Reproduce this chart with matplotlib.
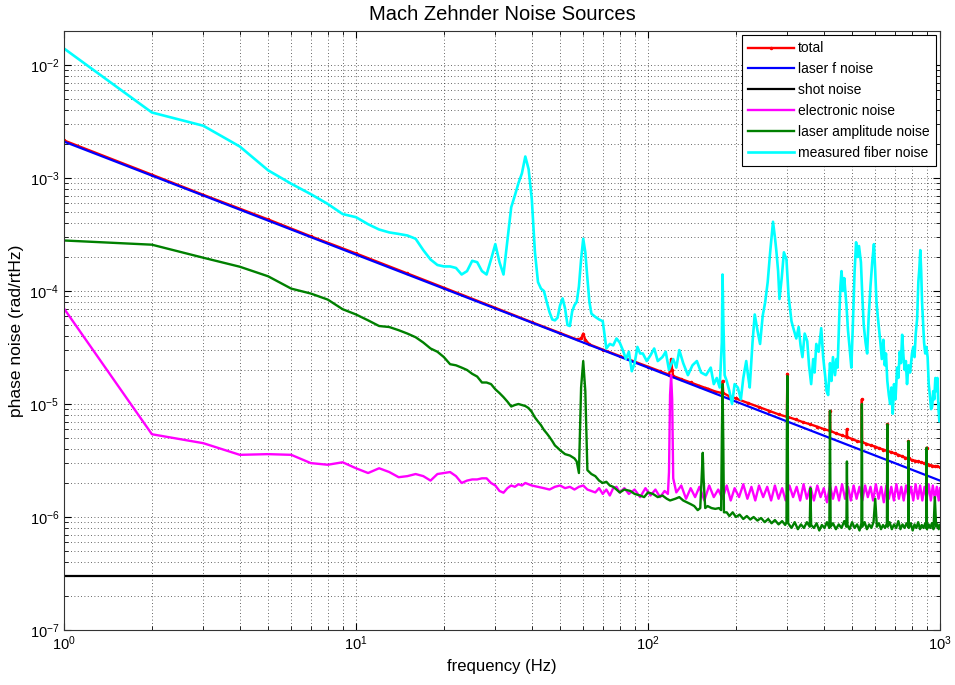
import numpy as np
import matplotlib
matplotlib.use('Agg')
from matplotlib import pyplot as plt

plt.rcParams['font.family'] = ['Liberation Sans', 'DejaVu Sans']

# total noise
total_f = [1, 2, 3, 5, 7, 10, 15, 20, 30, 40, 50, 57, 59, 60, 61, 63, 70, 80, 90, 100,
           110, 118, 119, 120, 121, 122, 130, 140, 150, 157, 160, 170, 179, 180, 181, 190,
           200, 220, 240, 260, 280, 299, 300, 301, 320, 340, 360, 380, 400, 419, 420, 421,
           440, 460, 479, 480, 481, 500, 520, 539, 540, 541, 560, 580, 600, 620, 640, 659,
           660, 661, 680, 700, 720, 740, 760, 779, 780, 781, 800, 820, 840, 860, 880, 899,
           900, 901, 920, 940, 960, 980, 1000]
total_v = [2.15e-3, 1.07e-3, 7.1e-4, 4.3e-4, 3.05e-4, 2.15e-4, 1.43e-4, 1.07e-4, 7.1e-5,
           5.3e-5, 4.25e-5, 3.73e-5, 3.8e-5, 4.2e-5, 3.7e-5, 3.37e-5, 3.03e-5, 2.66e-5,
           2.37e-5, 2.14e-5, 1.95e-5, 1.82e-5, 2.0e-5, 2.5e-5, 2.0e-5, 1.77e-5, 1.66e-5,
           1.55e-5, 1.45e-5, 1.39e-5, 1.37e-5, 1.29e-5, 1.25e-5, 1.6e-5, 1.25e-5, 1.17e-5,
           1.12e-5, 1.02e-5, 9.4e-6, 8.7e-6, 8.1e-6, 7.7e-6, 1.85e-5, 7.7e-6, 7.3e-6, 6.9e-6,
           6.6e-6, 6.3e-6, 6.0e-6, 5.8e-6, 8.7e-6, 5.8e-6, 5.5e-6, 5.3e-6, 5.1e-6, 6.0e-6,
           5.1e-6, 4.9e-6, 4.7e-6, 4.6e-6, 1.1e-5, 4.6e-6, 4.45e-6, 4.3e-6, 4.2e-6, 4.05e-6,
           3.95e-6, 3.85e-6, 6.6e-6, 3.85e-6, 3.75e-6, 3.65e-6, 3.55e-6, 3.45e-6, 3.35e-6,
           3.3e-6, 4.7e-6, 3.3e-6, 3.2e-6, 3.15e-6, 3.1e-6, 3.05e-6, 3.0e-6, 2.95e-6, 4.1e-6,
           2.95e-6, 2.9e-6, 2.85e-6, 2.8e-6, 2.8e-6, 2.75e-6]

# laser frequency noise
laserf_f = [1, 10, 100, 1000]
laserf_v = [2.1e-3, 2.1e-4, 2.1e-5, 2.1e-6]

# shot noise
shot_f = [1, 1000]
shot_v = [3e-7, 3e-7]

# electronic noise
elec_f = [1, 2, 3, 4, 5, 6, 7, 8, 9, 10, 11, 12, 13, 14, 15, 16, 17, 18, 19, 20, 21, 22,
          23, 24, 25, 26, 27, 28, 29, 30, 31, 32, 33, 34, 35, 36, 37, 38, 39, 40, 42, 44,
          46, 48, 50, 52, 54, 56, 58, 60, 62, 64, 66, 68, 70, 72, 74, 76, 78, 80, 83, 86,
          90, 94, 98, 102, 106, 110, 114, 117, 118, 119, 120, 121, 122, 125,
          130, 135, 140, 145, 150, 156, 162, 168, 174, 180, 186, 192, 198, 205, 212, 219,
          226, 233, 240, 248, 256, 264, 272, 280, 288, 296, 305, 314, 323, 332, 341, 350,
          360, 370, 380, 390, 400, 410, 420, 430, 440, 451, 462, 473, 484, 495, 506, 518,
          530, 542, 554, 566, 578, 590, 603, 616, 629, 642, 655, 668, 681, 695, 709, 723,
          737, 751, 765, 780, 795, 810, 825, 840, 855, 870, 885, 900, 915, 930, 945, 960,
          975, 990, 1000]
elec_v = [7.0e-5, 5.4e-6, 4.5e-6, 3.55e-6, 3.6e-6, 3.55e-6, 3.0e-6, 2.9e-6, 3.05e-6,
          2.7e-6, 2.45e-6, 2.7e-6, 2.5e-6, 2.25e-6, 2.3e-6, 2.4e-6, 2.3e-6, 2.1e-6, 2.4e-6,
          2.45e-6, 2.5e-6, 2.3e-6, 2.0e-6, 2.1e-6, 2.15e-6, 2.15e-6, 2.2e-6, 2.2e-6, 2.0e-6,
          1.9e-6, 1.7e-6, 1.64e-6, 1.8e-6, 1.9e-6, 1.85e-6, 1.95e-6, 1.9e-6, 2.0e-6, 1.95e-6,
          1.9e-6, 1.85e-6, 1.8e-6, 1.75e-6, 1.85e-6, 1.9e-6, 1.8e-6, 1.85e-6, 1.75e-6,
          1.85e-6, 1.9e-6, 1.75e-6, 1.7e-6, 1.65e-6, 1.8e-6, 1.6e-6, 1.75e-6, 1.55e-6,
          1.8e-6, 1.85e-6, 1.65e-6, 1.8e-6, 1.6e-6, 1.75e-6, 1.5e-6, 1.8e-6, 1.55e-6,
          1.75e-6, 1.5e-6, 1.7e-6, 1.6e-6, 2.5e-6, 1.2e-5, 1.8e-5, 1.1e-5, 2.2e-6, 1.65e-6,
          1.9e-6, 1.45e-6, 1.8e-6, 1.5e-6, 1.85e-6, 1.4e-6, 1.9e-6, 1.5e-6, 1.75e-6, 1.45e-6,
          1.9e-6, 1.4e-6, 1.8e-6, 1.5e-6, 1.95e-6, 1.45e-6, 1.85e-6, 1.4e-6, 1.9e-6, 1.5e-6,
          1.85e-6, 1.4e-6, 1.9e-6, 1.45e-6, 1.8e-6, 1.4e-6, 1.9e-6, 1.5e-6, 1.85e-6, 1.4e-6,
          1.95e-6, 1.45e-6, 1.85e-6, 1.4e-6, 1.9e-6, 1.5e-6, 1.8e-6, 1.35e-6, 1.9e-6, 1.45e-6,
          1.85e-6, 1.4e-6, 1.95e-6, 1.45e-6, 1.85e-6, 1.4e-6, 1.9e-6, 1.45e-6, 1.85e-6,
          1.4e-6, 1.9e-6, 1.5e-6, 1.85e-6, 1.4e-6, 1.95e-6, 1.45e-6, 1.85e-6, 1.35e-6, 1.9e-6,
          1.45e-6, 1.85e-6, 1.4e-6, 1.95e-6, 1.45e-6, 1.85e-6, 1.4e-6, 1.9e-6, 1.5e-6,
          1.85e-6, 1.4e-6, 1.95e-6, 1.45e-6, 1.9e-6, 1.4e-6, 1.85e-6, 1.45e-6, 1.95e-6,
          1.4e-6, 1.9e-6, 1.45e-6, 1.85e-6, 1.4e-6, 1.8e-6]

# laser amplitude noise
amp_f = [1, 2, 3, 4, 5, 6, 7, 8, 9, 10, 11, 12, 13, 14, 15, 16, 17, 18, 19, 20, 21, 22, 23,
         24, 25, 26, 27, 28, 29, 30, 31, 32, 33, 34, 35, 36, 37, 38, 39, 40, 41, 42, 43, 44,
         45, 46, 47, 48, 49, 50, 52, 54, 56, 57, 58, 59, 60, 61, 62, 64, 66, 68, 70, 72, 74,
         76, 78, 80, 83, 87, 90, 94, 97, 100, 104, 108, 112, 116, 119, 124, 128, 132, 136,
         140, 144, 148, 151, 153, 154, 155, 157, 160, 165, 170, 175, 178, 179, 180, 181,
         182, 186, 190, 195, 200, 206, 212, 218, 224, 230, 237, 244, 251, 258, 265, 272,
         280, 288, 295, 298, 299, 300, 301, 302, 310, 318, 326, 334, 342, 350, 358, 360,
         362, 370, 378, 386, 394, 402, 410, 418, 419, 420, 421, 422, 430, 440, 450, 460,
         470, 478, 480, 482, 490, 500, 510, 520, 530, 538, 539, 540, 541, 542, 552, 562,
         572, 582, 592, 600, 608, 618, 628, 638, 648, 658, 659, 660, 661, 662, 672, 684,
         696, 708, 720, 732, 744, 756, 768, 778, 779, 780, 781, 782, 794, 806, 818, 830,
         842, 854, 866, 878, 890, 898, 899, 900, 901, 902, 914, 926, 938, 950, 960, 970,
         980, 990, 1000]
amp_v = [2.8e-4, 2.57e-4, 1.97e-4, 1.64e-4, 1.35e-4, 1.05e-4, 9.5e-5, 8.4e-5, 6.9e-5,
         6.2e-5, 5.5e-5, 4.9e-5, 4.8e-5, 4.5e-5, 4.2e-5, 3.9e-5, 3.5e-5, 3.1e-5, 2.9e-5,
         2.6e-5, 2.25e-5, 2.2e-5, 2.1e-5, 2.0e-5, 1.85e-5, 1.75e-5, 1.55e-5, 1.55e-5,
         1.5e-5, 1.35e-5, 1.25e-5, 1.15e-5, 1.05e-5, 9.5e-6, 9.8e-6, 1.0e-5, 9.8e-6, 9.6e-6,
         9.2e-6, 8.5e-6, 7.6e-6, 7.0e-6, 6.5e-6, 5.9e-6, 5.5e-6, 5.1e-6, 4.7e-6, 4.3e-6,
         4.1e-6, 3.9e-6, 3.6e-6, 3.5e-6, 3.3e-6, 3.1e-6, 2.45e-6, 1.4e-5, 2.4e-5, 1.3e-5,
         2.6e-6, 2.4e-6, 2.3e-6, 2.1e-6, 2.0e-6, 2.05e-6, 1.9e-6, 1.85e-6, 1.75e-6, 1.65e-6,
         1.75e-6, 1.7e-6, 1.6e-6, 1.55e-6, 1.5e-6, 1.65e-6, 1.6e-6, 1.5e-6, 1.55e-6,
         1.45e-6, 1.4e-6, 1.45e-6, 1.5e-6, 1.4e-6, 1.35e-6, 1.3e-6, 1.25e-6, 1.15e-6,
         1.2e-6, 2.5e-6, 3.7e-6, 2.2e-6, 1.2e-6, 1.25e-6, 1.2e-6, 1.18e-6, 1.2e-6, 1.15e-6,
         5e-6, 1.5e-5, 5e-6, 1.1e-6, 1.1e-6, 1.02e-6, 1.1e-6, 1.0e-6, 1.05e-6, 0.96e-6,
         1.02e-6, 0.95e-6, 1.0e-6, 0.93e-6, 0.98e-6, 0.9e-6, 0.96e-6, 0.88e-6, 0.94e-6,
         0.86e-6, 0.92e-6, 0.85e-6, 0.9e-6, 6e-6, 1.77e-5, 6e-6, 0.88e-6, 0.8e-6, 0.9e-6,
         0.78e-6, 0.86e-6, 0.8e-6, 0.9e-6, 0.82e-6, 1.8e-6, 0.85e-6, 0.8e-6, 0.88e-6,
         0.76e-6, 0.85e-6, 0.8e-6, 0.9e-6, 0.8e-6, 3e-6, 8.7e-6, 3e-6, 0.82e-6, 0.88e-6,
         0.78e-6, 0.86e-6, 0.8e-6, 0.92e-6, 0.82e-6, 3.1e-6, 0.85e-6, 0.78e-6, 0.9e-6,
         0.8e-6, 0.86e-6, 0.76e-6, 0.88e-6, 3.5e-6, 1.0e-5, 3.5e-6, 0.82e-6, 0.9e-6,
         0.78e-6, 0.86e-6, 0.8e-6, 0.9e-6, 1.45e-6, 0.82e-6, 0.88e-6, 0.78e-6, 0.85e-6,
         0.8e-6, 0.88e-6, 2.5e-6, 6.6e-6, 2.5e-6, 0.82e-6, 0.9e-6, 0.78e-6, 0.86e-6, 0.8e-6,
         0.92e-6, 0.78e-6, 0.86e-6, 0.8e-6, 0.88e-6, 0.82e-6, 2e-6, 4.7e-6, 2e-6, 0.8e-6,
         0.88e-6, 0.76e-6, 0.86e-6, 0.8e-6, 0.9e-6, 0.78e-6, 0.85e-6, 0.8e-6, 0.88e-6,
         0.8e-6, 2e-6, 4.1e-6, 2e-6, 0.78e-6, 0.86e-6, 0.8e-6, 0.88e-6, 0.78e-6, 1.5e-6,
         0.82e-6, 0.86e-6, 0.78e-6, 0.85e-6]

# measured fiber noise
fiber_f = [1, 2, 3, 4, 5, 6, 7, 8, 9, 10, 11, 12, 13, 14, 15, 16, 17, 18, 19, 20, 21, 22,
           23, 24, 25, 26, 27, 28, 29, 30, 31, 32, 33, 34, 35, 36, 37, 38, 39, 40, 41, 42,
           43, 44, 45, 46, 47, 48, 49, 50, 51, 52, 53, 54, 55, 56, 57, 58, 59, 60, 61, 62,
           63, 64, 66, 68, 70, 72, 74, 76, 78, 80, 82, 84, 86, 88, 90, 92, 94, 96, 99, 102,
           105, 108, 112, 115, 118, 122, 125, 128, 132, 137, 142, 147, 152, 158, 164, 168,
           172, 176, 179, 180, 181, 183, 186, 190, 194, 198, 203, 208, 212, 217, 220, 223,
           228, 232, 237, 242, 247, 252, 257, 262, 268, 272, 275, 279, 282, 287, 292, 298,
           303, 310, 316, 322, 328, 333, 338, 344, 351, 356, 362, 368, 372, 377, 384, 392,
           398, 404, 409, 414, 420, 425, 430, 437, 442, 446, 452, 456, 460, 465, 470, 478,
           484, 490, 497, 503, 510, 516, 522, 528, 536, 542, 548, 556, 563, 570, 578, 586,
           594, 600, 606, 612, 618, 625, 632, 640, 647, 653, 660, 668, 675, 682, 689, 696,
           704, 713, 720, 728, 735, 742, 750, 757, 764, 771, 780, 790, 802, 810, 818, 826,
           835, 843, 850, 856, 862, 868, 875, 882, 890, 898, 907, 915, 923, 932, 940, 948,
           956, 964, 972, 980, 988, 995, 1000]
fiber_v = [1.4e-2, 3.8e-3, 2.9e-3, 1.9e-3, 1.17e-3, 8.9e-4, 7.2e-4, 5.9e-4, 4.8e-4, 4.5e-4,
           3.9e-4, 3.5e-4, 3.3e-4, 3.2e-4, 3.1e-4, 2.9e-4, 2.3e-4, 1.9e-4, 1.7e-4, 1.65e-4,
           1.65e-4, 1.6e-4, 1.4e-4, 1.5e-4, 1.85e-4, 1.8e-4, 1.5e-4, 1.4e-4, 1.9e-4, 2.6e-4,
           1.8e-4, 1.4e-4, 2.8e-4, 5.5e-4, 7e-4, 9e-4, 1.1e-3, 1.55e-3, 1.2e-3, 6.5e-4,
           2.2e-4, 1.2e-4, 1.05e-4, 1.0e-4, 8e-5, 6.5e-5, 5.6e-5, 5.5e-5, 5.8e-5, 7.5e-5,
           8.6e-5, 7e-5, 5e-5, 4.9e-5, 6.6e-5, 7.5e-5, 8e-5, 1.1e-4, 1.9e-4, 2.9e-4, 2.2e-4,
           1.3e-4, 8e-5, 6.3e-5, 5.9e-5, 5.6e-5, 5.4e-5, 3.1e-5, 3.4e-5, 3.3e-5, 3.8e-5,
           3.5e-5, 3.0e-5, 2.5e-5, 2.9e-5, 1.95e-5, 2.3e-5, 3.2e-5, 2.8e-5, 2.8e-5, 2.4e-5,
           2.7e-5, 3.1e-5, 2.4e-5, 2.6e-5, 2.9e-5, 2.0e-5, 2.5e-5, 2.1e-5, 3.0e-5, 2.3e-5,
           1.8e-5, 2.2e-5, 2.4e-5, 1.9e-5, 1.8e-5, 2.1e-5, 1.5e-5, 1.7e-5, 1.4e-5, 3.5e-5,
           1.4e-4, 6e-5, 1.8e-5, 1.6e-5, 1.3e-5, 1.0e-5, 1.5e-5, 1.4e-5, 1.1e-5, 1.7e-5,
           2.4e-5, 1.8e-5, 1.4e-5, 3.5e-5, 6.2e-5, 4.5e-5, 3.4e-5, 6e-5, 8e-5, 1.2e-4, 2.2e-4,
           4.1e-4, 3.0e-4, 2.3e-4, 1.5e-4, 8.5e-5, 1.3e-4, 2.2e-4, 1.9e-4, 9e-5, 5.4e-5,
           4.5e-5, 3.8e-5, 4.8e-5, 3.3e-5, 2.6e-5, 4.2e-5, 3.6e-5, 2.2e-5, 1.5e-5, 2.5e-5,
           1.9e-5, 3.4e-5, 2.9e-5, 4.7e-5, 2.6e-5, 1.8e-5, 1.3e-5, 1.2e-5, 2.3e-5, 1.6e-5,
           2.6e-5, 1.8e-5, 2.5e-5, 2.1e-5, 6e-5, 1.1e-4, 1.5e-4, 1.0e-4, 1.3e-4, 7.6e-5,
           4.5e-5, 3.2e-5, 2.1e-5, 5e-5, 1.5e-4, 2.7e-4, 2.0e-4, 2.5e-4, 1.8e-4, 9e-5, 5e-5,
           3.5e-5, 2.8e-5, 6e-5, 1.1e-4, 1.8e-4, 2.6e-4, 1.5e-4, 8e-5, 6e-5, 4.7e-5, 3.5e-5,
           2.5e-5, 3.7e-5, 2.2e-5, 2.8e-5, 1.6e-5, 1.2e-5, 1.0e-5, 1.4e-5, 8.2e-6, 1.5e-5,
           1.1e-5, 2.1e-5, 1.7e-5, 2.9e-5, 2.3e-5, 4.1e-5, 2.6e-5, 2.0e-5, 2.4e-5, 1.5e-5,
           2.2e-5, 1.9e-5, 2.8e-5, 3.2e-5, 2.6e-5, 4.2e-5, 5.7e-5, 1.2e-4, 1.6e-4, 2.3e-4,
           1.5e-4, 8e-5, 5.2e-5, 3.5e-5, 2.8e-5, 3.2e-5, 2.6e-5, 1.5e-5, 1.2e-5, 9e-6,
           9.5e-6, 1.3e-5, 1.1e-5, 1.7e-5, 1.3e-5, 1.7e-5, 9e-6, 7e-6, 1.0e-5]

labels = ['total', 'laser f noise', 'shot noise', 'electronic noise',
          'laser amplitude noise', 'measured fiber noise']

fig = plt.figure(figsize=(9.55, 6.85), dpi=100)
ax = fig.add_axes([64/955, 55/685, 876/955, 599/685])

ax.loglog(total_f, total_v, color='red', lw=1.7, marker='.', ms=3, label=labels[0])
ax.loglog(laserf_f, laserf_v, color='blue', lw=1.6, label=labels[1])
ax.loglog(shot_f, shot_v, color='black', lw=1.6, label=labels[2])
ax.loglog(elec_f, elec_v, color='magenta', lw=1.7, label=labels[3])
ax.loglog(amp_f, amp_v, color='green', lw=1.7, label=labels[4])
ax.loglog(fiber_f, fiber_v, color='cyan', lw=1.9, label=labels[5])

ax.set_xlim(1, 1000)
ax.set_ylim(1e-7, 2e-2)

ax.grid(True, which='both', color='k', linestyle=(0, (1, 3)), lw=0.6, alpha=0.8)
ax.tick_params(which='both', direction='in', top=True, right=True, labelsize=10.5)
ax.tick_params(which='major', length=5)
ax.tick_params(which='minor', length=3)
for s in ax.spines.values():
    s.set_color('#333333')

ax.set_title('Mach Zehnder Noise Sources', fontsize=14.5, pad=8)
ax.set_xlabel('frequency (Hz)', fontsize=12)
ax.set_ylabel('phase noise (rad/rtHz)', fontsize=12.5)

leg = ax.legend(loc='upper right', fontsize=10, fancybox=False, framealpha=1,
                edgecolor='black', handlelength=3.3, borderaxespad=0.3,
                labelspacing=0.5, borderpad=0.45, handletextpad=0.3)
leg.get_frame().set_linewidth(0.8)

fig.savefig('out.png', dpi=100)
